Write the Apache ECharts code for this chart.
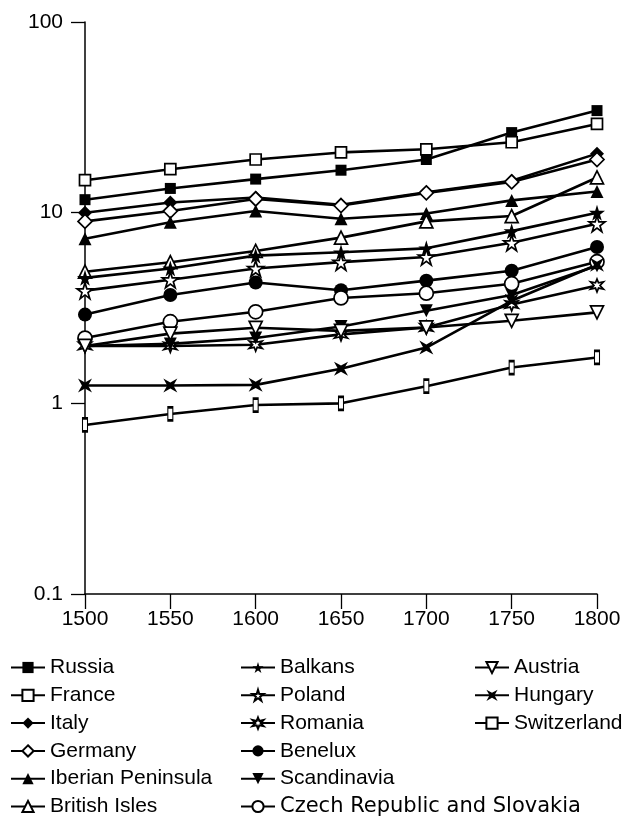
<!DOCTYPE html>
<html>
<head>
<meta charset="utf-8">
<script src="https://cdn.jsdelivr.net/npm/echarts@6/dist/echarts.min.js"></script>
<style>html,body{margin:0;padding:0;background:#fff}#c{width:626px;height:822px}</style>
</head>
<body>
<div id="c"></div>
<script>
var years = [1500, 1550, 1600, 1650, 1700, 1750, 1800];
var yTicks = [0.1, 1, 10, 100];

var russia      = [11.7, 13.4, 15.0, 16.7, 19.0, 26.3, 34.3];
var france      = [14.8, 16.9, 19.0, 20.7, 21.5, 23.4, 29.2];
var italy       = [10.0, 11.3, 12.0, 11.0, 12.8, 14.7, 20.4];
var germany     = [9.0, 10.2, 11.8, 10.9, 12.7, 14.5, 19.0];
var iberian     = [7.3, 8.9, 10.2, 9.3, 9.9, 11.6, 12.9];
var british     = [4.9, 5.5, 6.3, 7.4, 9.0, 9.6, 15.3];
var balkans     = [4.55, 5.1, 5.95, 6.2, 6.5, 8.0, 10.0];
var poland      = [3.9, 4.45, 5.1, 5.5, 5.85, 6.95, 8.75];
var romania     = [2.0, 2.0, 2.03, 2.3, 2.5, 3.3, 4.15];
var benelux     = [2.92, 3.7, 4.3, 3.92, 4.4, 4.96, 6.6];
var scandinavia = [2.0, 2.05, 2.2, 2.53, 3.06, 3.7, 5.27];
var czech       = [2.2, 2.68, 3.02, 3.57, 3.78, 4.24, 5.53];
var austria     = [2.0, 2.32, 2.49, 2.4, 2.5, 2.71, 3.0];
var hungary     = [1.24, 1.24, 1.25, 1.52, 1.96, 3.45, 5.33];
var switzerland = [0.77, 0.88, 0.98, 1.0, 1.23, 1.54, 1.74];

var STAR = 'path://M50,0 L61,35 L98,35 L68,57 L79,91 L50,70 L21,91 L32,57 L2,35 L39,35 Z';
var XSTAR = 'path://M0,0 L50,28 L100,0 L72,50 L100,100 L50,72 L0,100 L28,50 Z';
var ASTER = 'path://M50,0 L60,30 L93,22 L70,50 L93,78 L60,70 L50,100 L40,70 L7,78 L30,50 L7,22 L40,30 Z';

function pairs(v) { return years.map(function (y, i) { return [y, v[i]]; }); }

function mk(name, vals, symbol, size, open, rotate) {
  return {
    name: name, type: 'line', data: pairs(vals),
    symbol: symbol, symbolSize: size, symbolRotate: rotate || 0,
    showAllSymbol: true,
    lineStyle: { color: '#000', width: 2.6 },
    itemStyle: { color: open ? '#fff' : '#000', borderColor: '#000', borderWidth: open ? 1.7 : 0 },
    emphasis: { disabled: true },
    animation: false, z: 3
  };
}

var series = [
  mk('Russia', russia, 'rect', 11, false),
  mk('France', france, 'rect', 11, true),
  mk('Italy', italy, 'diamond', 14, false),
  mk('Germany', germany, 'diamond', 14, true),
  mk('Iberian Peninsula', iberian, 'triangle', 13, false),
  mk('British Isles', british, 'triangle', 13, true),
  mk('Balkans', balkans, STAR, 16, false),
  mk('Poland', poland, STAR, 16, true),
  mk('Romania', romania, ASTER, 13, true),
  mk('Benelux', benelux, 'circle', 14, false),
  mk('Scandinavia', scandinavia, 'triangle', 13, false, 180),
  mk('Czech Republic and Slovakia', czech, 'circle', 14, true),
  mk('Austria', austria, 'triangle', 13, true, 180),
  mk('Hungary', hungary, XSTAR, 14, false),
  mk('Switzerland', switzerland, 'rect', [5, 13], true)
];

var font = '"Liberation Sans", Arial, Helvetica, sans-serif';
function legend(left, names) {
  return {
    left: left, top: 657, orient: 'vertical', itemGap: 6.8, padding: 0,
    width: 380, height: 175,
    itemWidth: 34, itemHeight: 14, selectedMode: false,
    data: names,
    textStyle: { fontSize: 21, fontFamily: font, color: '#000', lineHeight: 20 }
  };
}

var chart = echarts.init(document.getElementById('c'), null, { renderer: 'canvas' });
chart.setOption({
  backgroundColor: '#fff',
  animation: false,
  grid: { left: 85, right: 29, top: 22, bottom: 228, containLabel: false },
  xAxis: {
    type: 'value', min: years[0], max: years[years.length - 1], interval: 50,
    axisLine: { lineStyle: { color: '#000', width: 1.5 } },
    axisTick: { length: 15, lineStyle: { color: '#000', width: 1.3 } },
    axisLabel: { color: '#000', fontSize: 21, fontFamily: font, margin: 15,
      formatter: function (v) { return String(v); } },
    splitLine: { show: false }
  },
  yAxis: {
    type: 'log', logBase: 10, min: yTicks[0], max: yTicks[yTicks.length - 1],
    axisLine: { show: true, lineStyle: { color: '#000', width: 1.5 } },
    axisTick: { show: true, length: 14, lineStyle: { color: '#000', width: 1.3 } },
    axisLabel: { color: '#000', fontSize: 21, fontFamily: font, margin: 22,
      formatter: function (v) { return String(+v.toPrecision(3)); } },
    splitLine: { show: false },
    minorTick: { show: false }
  },
  legend: [
    legend(10, ['Russia', 'France', 'Italy', 'Germany', 'Iberian Peninsula', 'British Isles']),
    legend(240, ['Balkans', 'Poland', 'Romania', 'Benelux', 'Scandinavia',
      { name: 'Czech Republic and Slovakia', textStyle: { fontFamily: '"DejaVu Sans", sans-serif', fontSize: 21 } }]),
    legend(474, ['Austria', 'Hungary', 'Switzerland'])
  ],
  series: series
});
</script>
</body>
</html>
